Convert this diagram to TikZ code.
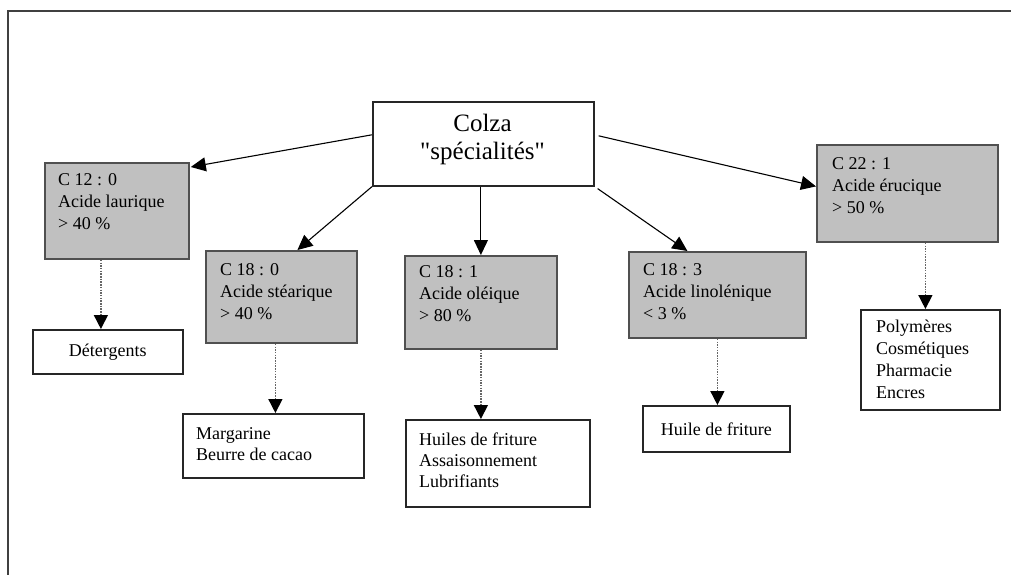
\documentclass[tikz,border=0pt]{standalone}
\usepackage{fontspec}
\setmainfont{Liberation Serif}
\newfontfamily\colzafont{Liberation Serif}
\usetikzlibrary{arrows.meta,calc}
\definecolor{boxgray}{HTML}{C0C0C0}
\definecolor{edgegray}{HTML}{505050}
\tikzset{
  acidbox/.style={draw=edgegray, line width=1.8pt, fill=boxgray, anchor=north west, inner sep=0pt},
  usebox/.style={draw=black!85, line width=1.5pt, fill=white, anchor=north west, inner sep=0pt},
  smalltext/.style={anchor=north west, inner sep=0pt, align=left, font=\fontsize{18}{22}\selectfont},
  link/.style={line width=1.1pt, -{Triangle[length=15pt,width=14pt]}},
  dotlink/.style={line width=1.5pt, draw=black!60, dash pattern=on 1.5pt off 1.2pt, -{Triangle[length=14pt,width=14pt,fill=black,color=black]}},
}
\begin{document}
\begin{tikzpicture}[x=1pt,y=-1pt]
\useasboundingbox (0,0) rectangle (1011,575);
% outer frame (extends beyond the page)
\draw[line width=2.4pt, draw=black!75] (8,580) -- (8,11) -- (1020,11);

% central node
\node[usebox, line width=1.6pt, minimum width=221pt, minimum height=84pt] (colza) at (372,101) {};
\node[inner sep=0pt, align=center, font=\colzafont\fontsize{25}{28}\selectfont, anchor=north] (colzat) at (482.5,114) {Colza\\"spécialités"};

% acid boxes
\node[acidbox, minimum width=144pt, minimum height=96pt] (c12) at (44,162) {};
\node[smalltext] (c12t) at (58,173) {C 12 : 0\\Acide laurique\\> 40 \%};

\node[acidbox, minimum width=151pt, minimum height=92pt] (c180) at (205,250) {};
\node[smalltext] (c180t) at (220,263) {C 18 : 0\\Acide stéarique\\> 40 \%};

\node[acidbox, minimum width=152pt, minimum height=93pt] (c181) at (404,255) {};
\node[smalltext] (c181t) at (419,265) {C 18 : 1\\Acide oléique\\> 80 \%};

\node[acidbox, minimum width=177pt, minimum height=86pt] (c183) at (628,251) {};
\node[smalltext] (c183t) at (643,263) {C 18 : 3\\Acide linolénique\\< 3 \%};

\node[acidbox, minimum width=181pt, minimum height=97pt] (c22) at (816,144) {};
\node[smalltext] (c22t) at (832,157) {C 22 : 1\\Acide érucique\\> 50 \%};

% use boxes
\node[usebox, minimum width=150pt, minimum height=44pt, font=\fontsize{18}{22}\selectfont] (det) at (32,329) {Détergents};

\node[usebox, minimum width=181pt, minimum height=64pt] (marg) at (182,413) {};
\node[smalltext, font=\fontsize{18}{21}\selectfont] (margt) at (196,427) {Margarine\\Beurre de cacao};

\node[usebox, minimum width=184pt, minimum height=87pt] (huiles) at (405,419) {};
\node[smalltext, font=\fontsize{18}{21}\selectfont] (huilest) at (419,433) {Huiles de friture\\Assaisonnement\\Lubrifiants};

\node[usebox, minimum width=147pt, minimum height=46pt, font=\fontsize{18}{22}\selectfont] (huile) at (642,405) {Huile de friture};

\node[usebox, minimum width=139pt, minimum height=100pt] (poly) at (860,309) {};
\node[smalltext] (polyt) at (876,320) {Polymères\\Cosmétiques\\Pharmacie\\Encres};

% solid arrows from the central node
\draw[link] ([yshift=9pt]colza.west) -- ([xshift=1pt,yshift=-5pt]c12.north east);
\draw[link] (colza.south west) -- ([xshift=16pt]c180.north);
\draw[link] (c181.north |- colza.south) -- (c181.north);
\draw[link] ([xshift=3pt,yshift=-2pt]colza.south east) -- ([xshift=-30pt]c183.north);
\draw[link] ([xshift=4pt,yshift=8pt]colza.east) -- ([yshift=7pt]c22.west);

% dotted arrows to the uses
\draw[dotlink] ([xshift=-16pt]c12.south) -- ([xshift=-16pt]c12.south |- det.north);
\draw[dotlink] ([xshift=-6pt]c180.south) -- ([xshift=-6pt]c180.south |- marg.north);
\draw[dotlink] (c181.south) -- (c181.south |- huiles.north);
\draw[dotlink] (c183.south) -- (c183.south |- huile.north);
\draw[dotlink] ([xshift=18pt]c22.south) -- ([xshift=18pt]c22.south |- poly.north);
\end{tikzpicture}
\end{document}
